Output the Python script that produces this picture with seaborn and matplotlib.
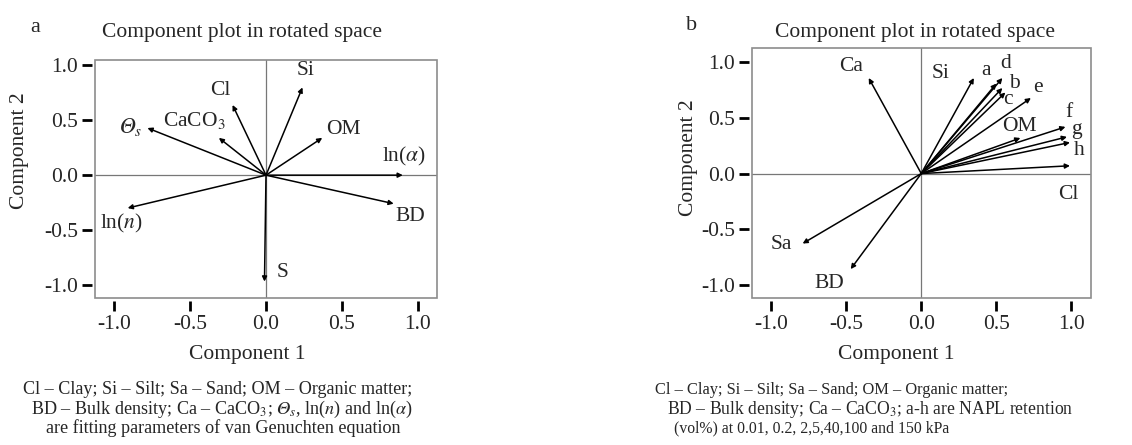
import numpy as np
import pandas as pd
import matplotlib.pyplot as plt
import seaborn as sns
from matplotlib.patches import Rectangle

# Panel a: loadings in rotated space
labels_a = ["Si", "Cl", "CaCO$_3$", "$𝛩_s$", "OM", r"ln($\alpha$)", "BD", "ln($n$)", "S"]
comp1_a = [0.24, -0.22, -0.31, -0.78, 0.37, 0.90, 0.84, -0.91, -0.01]
comp2_a = [0.80, 0.64, 0.34, 0.43, 0.34, 0.00, -0.26, -0.30, -0.97]
text_x_a = [0.26, -0.30, -0.47, -0.89, 0.51, 0.91, 0.95, -0.95, 0.11]
text_y_a = [0.95, 0.77, 0.50, 0.44, 0.42, 0.17, -0.38, -0.44, -0.89]

# Panel b: loadings in rotated space
labels_b = ["Ca", "Si", "a", "d", "b", "c", "e", "OM", "f", "g", "h", "Cl", "Sa", "BD"]
comp1_b = [-0.35, 0.35, 0.50, 0.54, 0.54, 0.56, 0.73, 0.66, 0.96, 0.97, 0.99, 0.99, -0.79, -0.47]
comp2_b = [0.86, 0.86, 0.81, 0.86, 0.77, 0.73, 0.68, 0.32, 0.42, 0.33, 0.28, 0.07, -0.63, -0.86]
text_x_b = [-0.47, 0.13, 0.43, 0.56, 0.62, 0.58, 0.78, 0.65, 0.98, 1.03, 1.05, 0.98, -0.93, -0.61]
text_y_b = [0.96, 0.90, 0.93, 0.99, 0.81, 0.67, 0.77, 0.42, 0.55, 0.40, 0.21, -0.19, -0.64, -0.99]

ticks = [-1.0, -0.5, 0.0, 0.5, 1.0]

caption_a = ["Cl – Clay; Si – Silt; Sa – Sand; OM – Organic matter;",
             r"BD – Bulk density; Ca – CaCO$_3$; $𝛩_s$, ln($n$) and ln($\alpha$)",
             "are fitting parameters of van Genuchten equation"]
caption_b = ["Cl – Clay; Si – Silt; Sa – Sand; OM – Organic matter;",
             "BD – Bulk density; Ca – CaCO$_3$; a-h are NAPL retention",
             "(vol%) at 0.01, 0.2, 2,5,40,100 and 150 kPa"]

sns.set_theme(style="white")
plt.rcParams['font.family'] = ['Liberation Serif', 'DejaVu Serif']
plt.rcParams['mathtext.fontset'] = 'stix'

W, H = 1132, 445
fig = plt.figure(figsize=(W / 100, H / 100), dpi=100)


def px_axes(left, top, right, bottom):
    return fig.add_axes([left / W, 1 - bottom / H, (right - left) / W, (bottom - top) / H])


def fig_text(x, y, s, **kw):
    fig.text(x / W, 1 - y / H, s, ha="center", va="center", **kw)


def draw_panel(ax, df, xlim, ylim):
    ax.set_xlim(*xlim)
    ax.set_ylim(*ylim)
    ax.axhline(0, color="#777777", lw=0.9, zorder=1)
    ax.axvline(0, color="#777777", lw=0.9, zorder=1)
    for _, row in df.iterrows():
        ax.annotate("", xy=(row.c1, row.c2), xytext=(0, 0),
                    arrowprops=dict(arrowstyle="-|>", color="black", lw=1.1,
                                    mutation_scale=7, shrinkA=0, shrinkB=0))
        ax.text(row.tx, row.ty, row.label, fontsize=15.5, ha="center", va="center")
    # detached ticks + grey frame
    for side in ["left", "bottom"]:
        ax.spines[side].set_position(("outward", 2))
        ax.spines[side].set_visible(False)
    ax.spines["top"].set_visible(False)
    ax.spines["right"].set_visible(False)
    ax.add_patch(Rectangle((0, 0), 1, 1, transform=ax.transAxes, fill=False,
                           edgecolor="#8c8c8c", lw=1.2, clip_on=False))
    ax.set_xticks(ticks)
    ax.set_yticks(ticks)
    ax.set_xticklabels([f"{t:.1f}" for t in ticks])
    ax.set_yticklabels([f"{t:.1f}" for t in ticks])
    ax.tick_params(axis="both", which="major", direction="out", length=7, width=2,
                   color="black", labelsize=15.5, pad=3, bottom=True, left=True)
    ax.set_xlabel("")
    ax.set_ylabel("")


df_a = pd.DataFrame({"label": labels_a, "c1": comp1_a, "c2": comp2_a, "tx": text_x_a, "ty": text_y_a})
df_b = pd.DataFrame({"label": labels_b, "c1": comp1_b, "c2": comp2_b, "tx": text_x_b, "ty": text_y_b})

ax_a = px_axes(95, 60, 437, 298)
draw_panel(ax_a, df_a, (-1.125, 1.125), (-1.12, 1.05))

ax_b = px_axes(752, 48, 1091, 298)
draw_panel(ax_b, df_b, (-1.127, 1.13), (-1.12, 1.13))

# titles, panel letters, axis labels
fig_text(35, 28, "a", fontsize=16)
fig_text(692, 26, "b", fontsize=16)
fig_text(242, 33, "Component plot in rotated space", fontsize=15.5)
fig_text(915, 33, "Component plot in rotated space", fontsize=15.5)
fig_text(247, 355, "Component 1", fontsize=15.5)
fig_text(896, 355, "Component 1", fontsize=15.5)
fig_text(20, 151, "Component 2", fontsize=15.5, rotation=90)
fig_text(688, 158, "Component 2", fontsize=15.5, rotation=90)

cap_y = [390, 409, 428]
cap_xa = [218, 222, 223]
cap_xb = [832, 870, 812]
cap_size_b = [11.8, 12.7, 11.3]
for i in range(3):
    fig_text(cap_xa[i], cap_y[i], caption_a[i], fontsize=13.1)
    fig_text(cap_xb[i], cap_y[i], caption_b[i], fontsize=cap_size_b[i])

fig.savefig("out.png", dpi=100)
